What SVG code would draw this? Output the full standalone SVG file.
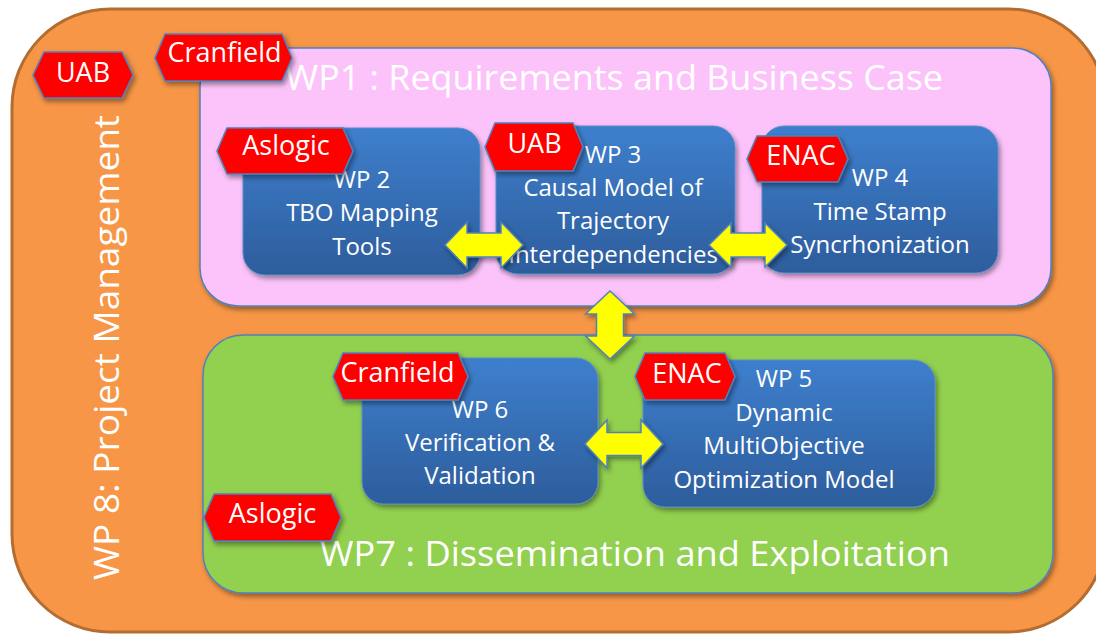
<svg xmlns="http://www.w3.org/2000/svg" width="1096" height="634" viewBox="0 0 1096 634">
<defs>
<linearGradient id="blueGrad" x1="0" y1="0" x2="0" y2="1">
<stop offset="0" stop-color="#3e7fcd"/>
<stop offset="1" stop-color="#2d5d9c"/>
</linearGradient>
<filter id="shadow" x="-10%" y="-10%" width="125%" height="130%">
<feDropShadow dx="2" dy="3" stdDeviation="2.5" flood-color="#000" flood-opacity="0.4"/>
</filter>
<style>
.outer{fill:#f79646;stroke:#b46d31;stroke-width:3;}
.pink{fill:#fcc3fb;stroke:#4f81bd;stroke-width:1.5;filter:url(#shadow);}
.green{fill:#92d050;stroke:#4f81bd;stroke-width:1.5;filter:url(#shadow);}
.box{fill:url(#blueGrad);stroke:#5a8ccc;stroke-width:1;filter:url(#shadow);}
.tag{fill:#ff0000;stroke:#4f81bd;stroke-width:1.5;filter:url(#shadow);}
.arrow{fill:#ffff00;stroke:#4f81bd;stroke-width:1.5;filter:url(#shadow);}
text{font-family:"Open Sans","Noto Sans","Liberation Sans",sans-serif;fill:#ffffff;}
.title{font-size:35px;}
.bt{font-size:24px;text-anchor:middle;}
.tt{font-size:27px;text-anchor:middle;}
</style>
</defs>

<g id="wp8">
<rect class="outer" x="12" y="9" width="1094" height="623" rx="98" ry="98"/>
<text class="title" transform="translate(119,580) rotate(-90)" textLength="465" lengthAdjust="spacingAndGlyphs">WP 8: Project Management</text>
<polygon class="tag" points="33,75 44,52 122,52 133,75 122,98 44,98"/>
<text class="tt" x="83" y="82">UAB</text>
</g>

<g id="wp1">
<rect class="pink" x="200" y="48" width="851" height="258" rx="38" ry="38"/>
<text class="title" x="285" y="90" textLength="658" lengthAdjust="spacingAndGlyphs">WP1 : Requirements and Business Case</text>
<polygon class="tag" points="155,58 165,34 282,34 292,58 282,81 165,81"/>
<text class="tt" x="224.5" y="62">Cranfield</text>
</g>

<g id="wp7">
<rect class="green" x="203" y="335" width="850" height="258" rx="40" ry="40"/>
<text class="title" x="320" y="566" textLength="630" lengthAdjust="spacingAndGlyphs">WP7 : Dissemination and Exploitation</text>
<polygon class="tag" points="204,517.5 214,494 331,494 341,517.5 331,541 214,541"/>
<text class="tt" x="272.5" y="523">Aslogic</text>
</g>

<g id="wp2">
<rect class="box" x="243" y="128" width="237" height="147" rx="22" ry="22"/>
<text class="bt" x="362" y="188">WP 2</text>
<text class="bt" x="362" y="221">TBO Mapping</text>
<text class="bt" x="362" y="255">Tools</text>
<polygon class="tag" points="217,151 227,128 343,128 353,151 343,174 227,174"/>
<text class="tt" x="286" y="155">Aslogic</text>
</g>

<g id="wp3">
<rect class="box" x="496" y="126" width="239" height="148" rx="22" ry="22"/>
<text class="bt" x="613" y="163">WP 3</text>
<text class="bt" x="613" y="196">Causal Model of</text>
<text class="bt" x="613" y="229">Trajectory</text>
<text class="bt" x="613" y="263">Interdependencies</text>
<polygon class="tag" points="485,147 495,123 573,123 583,147 573,171 495,171"/>
<text class="tt" x="534.5" y="153">UAB</text>
</g>

<g id="wp4">
<rect class="box" x="762" y="126" width="236" height="147" rx="22" ry="22"/>
<text class="bt" x="880" y="186">WP 4</text>
<text class="bt" x="880" y="220">Time Stamp</text>
<text class="bt" x="880" y="253">Syncrhonization</text>
<polygon class="tag" points="747,159 757,136 838,136 848,159 838,182 757,182"/>
<text class="tt" x="801" y="165">ENAC</text>
</g>

<g id="wp6">
<rect class="box" x="362" y="358" width="236" height="146" rx="22" ry="22"/>
<text class="bt" x="480" y="418">WP 6</text>
<text class="bt" x="480" y="451">Verification &amp;</text>
<text class="bt" x="480" y="484">Validation</text>
<polygon class="tag" points="333,376.5 343,353 458,353 468,376.5 458,400 343,400"/>
<text class="tt" x="397.5" y="382">Cranfield</text>
</g>

<g id="wp5">
<rect class="box" x="643" y="360" width="292" height="147" rx="22" ry="22"/>
<text class="bt" x="784" y="387">WP 5</text>
<text class="bt" x="784" y="421">Dynamic</text>
<text class="bt" x="784" y="454">MultiObjective</text>
<text class="bt" x="784" y="488">Optimization Model</text>
<polygon class="tag" points="635,376.5 645,353 725,353 735,376.5 725,400 645,400"/>
<text class="tt" x="687" y="383">ENAC</text>
</g>

<g id="connectors">
<polygon class="arrow" points="445,245 467,222 467,233 501,233 501,222 523,245 501,268 501,257 467,257 467,268"/>
<polygon class="arrow" points="709,245 731,223 731,233 765,233 765,223 787,245 765,267 765,257 731,257 731,267"/>
<polygon class="arrow" points="585,444 607,420 607,432.5 641,432.5 641,420 663,444 641,468 641,455.5 607,455.5 607,468"/>
<polygon class="arrow" points="610,291 634.5,314 623.5,314 623.5,336 634.5,336 610,359 585.5,336 596.5,336 596.5,314 585.5,314"/>
</g>
</svg>
